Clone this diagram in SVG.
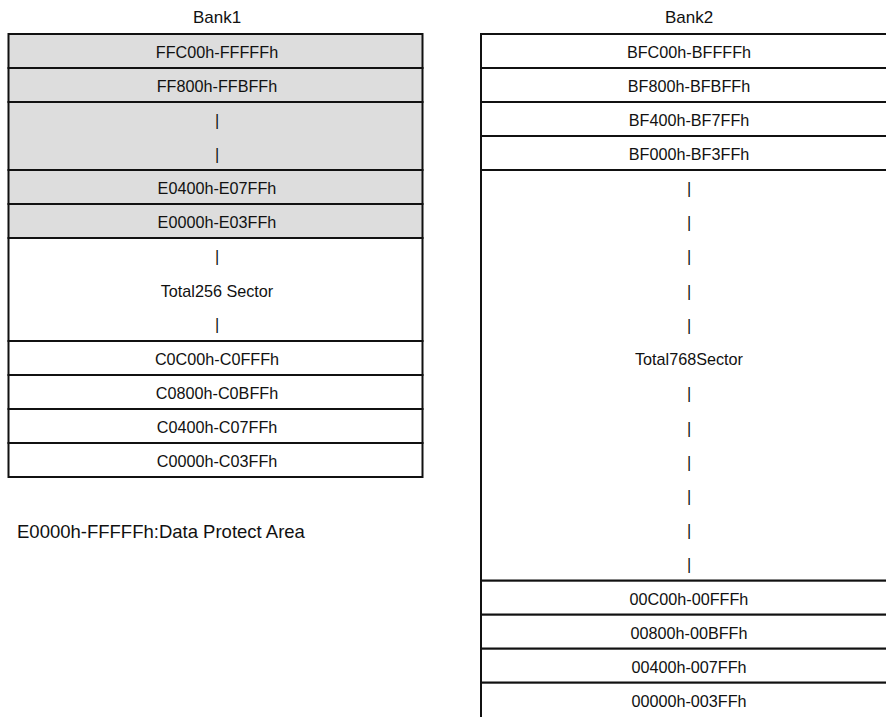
<svg xmlns="http://www.w3.org/2000/svg" width="886" height="717" viewBox="0 0 886 717">
<style>
  .cell { stroke: #111; stroke-width: 2; fill: #ffffff; }
  .prot { fill: #dddddd; }
  .t { font-family: "Liberation Sans", Arial, sans-serif; font-size: 16.2px; fill: #111; text-anchor: middle; }
  .hd { font-family: "Liberation Sans", Arial, sans-serif; font-size: 17px; fill: #111; text-anchor: middle; }
  .note { font-family: "Liberation Sans", Arial, sans-serif; font-size: 18.5px; fill: #111; }
</style>
<rect width="886" height="717" fill="#ffffff"/>

<text class="hd" x="217" y="23">Bank1</text>
<text class="hd" x="689" y="23">Bank2</text>

<g id="bank1">
  <g id="b1-r1"><rect class="cell prot" x="8.5" y="34" width="414" height="34"/><text class="t" x="217" y="58">FFC00h-FFFFFh</text></g>
  <g id="b1-r2"><rect class="cell prot" x="8.5" y="68" width="414" height="34"/><text class="t" x="217" y="92">FF800h-FFBFFh</text></g>
  <g id="b1-r3"><rect class="cell prot" x="8.5" y="102" width="414" height="68"/><text class="t" x="217" y="126">|</text><text class="t" x="217" y="160">|</text></g>
  <g id="b1-r4"><rect class="cell prot" x="8.5" y="170" width="414" height="34"/><text class="t" x="217" y="194">E0400h-E07FFh</text></g>
  <g id="b1-r5"><rect class="cell prot" x="8.5" y="204" width="414" height="34"/><text class="t" x="217" y="228">E0000h-E03FFh</text></g>
  <g id="b1-r6"><rect class="cell" x="8.5" y="238" width="414" height="103"/><text class="t" x="217" y="262">|</text><text class="t" x="217" y="296.5">Total256 Sector</text><text class="t" x="217" y="330">|</text></g>
  <g id="b1-r7"><rect class="cell" x="8.5" y="341" width="414" height="34"/><text class="t" x="217" y="365">C0C00h-C0FFFh</text></g>
  <g id="b1-r8"><rect class="cell" x="8.5" y="375" width="414" height="34"/><text class="t" x="217" y="399">C0800h-C0BFFh</text></g>
  <g id="b1-r9"><rect class="cell" x="8.5" y="409" width="414" height="34"/><text class="t" x="217" y="433">C0400h-C07FFh</text></g>
  <g id="b1-r10"><rect class="cell" x="8.5" y="443" width="414" height="34"/><text class="t" x="217" y="467">C0000h-C03FFh</text></g>
</g>

<g id="bank2">
  <g id="b2-r1"><rect class="cell" x="481" y="34" width="412" height="34"/><text class="t" x="689" y="58">BFC00h-BFFFFh</text></g>
  <g id="b2-r2"><rect class="cell" x="481" y="68" width="412" height="34"/><text class="t" x="689" y="92">BF800h-BFBFFh</text></g>
  <g id="b2-r3"><rect class="cell" x="481" y="102" width="412" height="34"/><text class="t" x="689" y="126">BF400h-BF7FFh</text></g>
  <g id="b2-r4"><rect class="cell" x="481" y="136" width="412" height="34"/><text class="t" x="689" y="160">BF000h-BF3FFh</text></g>
  <g id="b2-r5"><rect class="cell" x="481" y="170" width="412" height="410.7"/>
    <text class="t" x="689" y="194">|</text>
    <text class="t" x="689" y="228.2">|</text>
    <text class="t" x="689" y="262.4">|</text>
    <text class="t" x="689" y="296.7">|</text>
    <text class="t" x="689" y="330.9">|</text>
    <text class="t" x="689" y="365.3">Total768Sector</text>
    <text class="t" x="689" y="399.3">|</text>
    <text class="t" x="689" y="433.5">|</text>
    <text class="t" x="689" y="467.8">|</text>
    <text class="t" x="689" y="502">|</text>
    <text class="t" x="689" y="536.2">|</text>
    <text class="t" x="689" y="570.4">|</text>
  </g>
  <g id="b2-r6"><rect class="cell" x="481" y="580.7" width="412" height="34"/><text class="t" x="689" y="604.7">00C00h-00FFFh</text></g>
  <g id="b2-r7"><rect class="cell" x="481" y="614.7" width="412" height="34"/><text class="t" x="689" y="638.7">00800h-00BFFh</text></g>
  <g id="b2-r8"><rect class="cell" x="481" y="648.7" width="412" height="34"/><text class="t" x="689" y="672.7">00400h-007FFh</text></g>
  <g id="b2-r9"><rect class="cell" x="481" y="682.7" width="412" height="37"/><text class="t" x="689" y="706.7">00000h-003FFh</text></g>
</g>

<text id="note" class="note" x="17" y="538">E0000h-FFFFFh:Data Protect Area</text>
</svg>
